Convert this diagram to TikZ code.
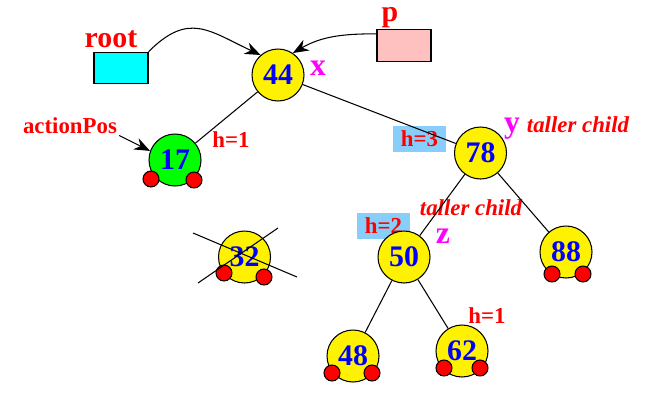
\documentclass[tikz,border=0pt]{standalone}
\usepackage{fontspec}
\setmainfont{Liberation Serif}
\usetikzlibrary{arrows.meta}
\definecolor{rootbox}{RGB}{0,255,255}
\definecolor{pinkbox}{RGB}{255,192,192}
\definecolor{hbox}{RGB}{135,206,250}
\definecolor{varcol}{RGB}{255,0,255}

\begin{document}
\begin{tikzpicture}[x=0.02cm,y=-0.02cm,line width=0.6pt,>={Stealth[length=9pt,width=7pt]}]
\tikzstyle{avl}=[circle,draw,fill=yellow,minimum size=1.04cm,inner sep=0pt,text=blue,font=\fontsize{17}{17}\selectfont\bfseries]
\tikzstyle{done}=[avl,fill=green]
\tikzstyle{nil}=[circle,draw,fill=red,minimum size=0.32cm,inner sep=0pt]
\tikzstyle{ptr}=[rectangle,draw,minimum width=1.08cm,minimum height=0.63cm,inner sep=0pt]
\tikzstyle{lbl}=[anchor=base,inner sep=1pt,text=red,font=\fontsize{13}{13}\selectfont\bfseries]
\tikzstyle{big}=[anchor=base,inner sep=0pt,text=red,font=\fontsize{17}{17}\selectfont\bfseries]
\tikzstyle{hgt}=[rectangle,fill=hbox,minimum width=1.06cm,minimum height=0.52cm,inner sep=0pt,text=red,font=\fontsize{13}{13}\selectfont\bfseries]
\tikzstyle{var}=[anchor=base,inner sep=1pt,text=varcol,font=\fontsize{18}{18}\selectfont\bfseries]
\tikzstyle{tall}=[lbl,font=\fontsize{13}{13}\selectfont\bfseries\itshape]

\useasboundingbox (0,0) rectangle (659,400);

%pointers.
\node[ptr,fill=rootbox] (root) at (121,68) {};
\node[ptr,fill=pinkbox] (p) at (404,45.5) {};
\node[big] (rootL) at (111,47) {root};
\node[big] (pL) at (390,21) {p};

%heights.
\node[hgt] (h3) at (419.5,139) {h=3};
\node[hgt] (h2) at (383.5,226) {h=2};
\node[lbl] (h17) at (231,147) {h=1};
\node[lbl] (h62) at (487,323) {h=1};

\node[var] (x) at (318,75) {x};
\node[var] (y) at (512,132) {y};
\node[var] (z) at (443,243) {z};
\node[tall] (tallY) at (578,132) {taller child};
\node[tall] (tallZ) at (471,215) {taller child};
\node[lbl] (actionPos) at (70,133) {actionPos};

\node[avl] (n44) at (278,75) {44};
\node[done] (n17) at (175,160) {17};
\node[avl] (n78) at (480.5,153) {78};
\node[avl] (n32) at (244.5,257) {32};
\node[avl] (n50) at (404,257) {50};
\node[avl] (n88) at (566,252) {88};
\node[avl] (n48) at (353,356) {48};
\node[avl] (n62) at (462,351) {62};

\draw (n44) -- (n17);
\draw (n44) -- (n78);
\draw (n78) -- (n50);
\draw (n78) -- (n88);
\draw (n50) -- (n48);
\draw (n50) -- (n62);

\node[nil] (n17a) at (151,179) {};
\node[nil] (n17b) at (194,180) {};
\node[nil] (n32a) at (224,273) {};
\node[nil] (n32b) at (264,277) {};
\node[nil] (n88a) at (552,274) {};
\node[nil] (n88b) at (583,274) {};
\node[nil] (n48a) at (332,373) {};
\node[nil] (n48b) at (372,373) {};
\node[nil] (n62a) at (444,368) {};
\node[nil] (n62b) at (480,368) {};

\draw[->] (root.north east) to[out=45,in=155,looseness=1.3] (n44.131);
\draw[->] (p.157) to[out=180,in=30] (n44.56);
\draw[->] (actionPos.south east) -- (n17.160);

%32 is gone.
\coordinate (crossA) at (193,233);
\coordinate (crossB) at (297,277);
\coordinate (crossC) at (198,283);
\coordinate (crossD) at (278,228);
\draw (crossA) -- (crossB);
\draw (crossC) -- (crossD);

\end{tikzpicture}
\end{document}
